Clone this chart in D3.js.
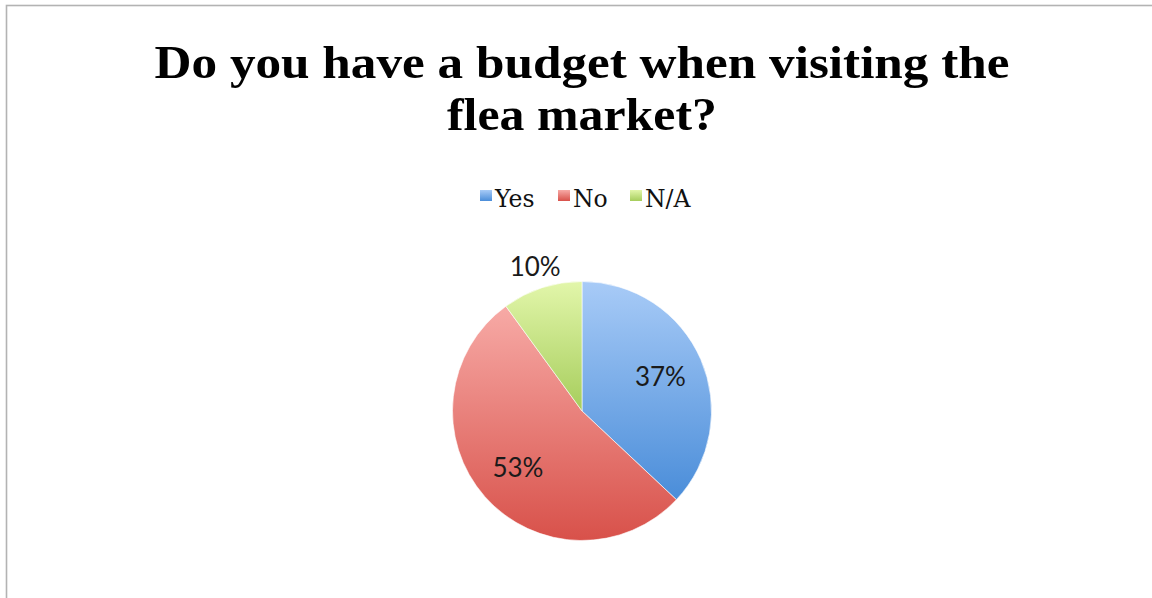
<!DOCTYPE html>
<html><head><meta charset="utf-8">
<script src="https://cdn.jsdelivr.net/npm/d3@7/dist/d3.min.js"></script>
<style>html,body{margin:0;padding:0;background:#fff;overflow:hidden}</style>
</head><body>
<svg id="chart" width="1152" height="598"></svg>
<script>
const titleLines = ["Do you have a budget when visiting the", "flea market?"];
const categories = ["Yes", "No", "N/A"];
const values = [37, 53, 10];
const colorsTop = ["#a8cbf7", "#f7aaa6", "#e2f6aa"];
const colorsBottom = ["#4a8dd9", "#d8514a", "#a6cd5c"];

const svg = d3.select("#chart");
const W = 1152, H = 598;
svg.append("rect").attr("width", W).attr("height", H).attr("fill", "#fff");
svg.append("rect").attr("x", 6.5).attr("y", 5.5).attr("width", W + 10).attr("height", H + 10)
  .attr("fill", "none").attr("stroke", "#b3b3b3").attr("stroke-width", 1.6);

const defs = svg.append("defs");
categories.forEach((c, i) => {
  const g = defs.append("linearGradient").attr("id", "grad" + i)
    .attr("x1", 0).attr("y1", 0).attr("x2", 0).attr("y2", 1);
  g.append("stop").attr("offset", "0%").attr("stop-color", colorsTop[i]);
  g.append("stop").attr("offset", "100%").attr("stop-color", colorsBottom[i]);
});

// Title
const titleWidths = [855, 270];
svg.append("g").selectAll("text").data(titleLines).join("text")
  .attr("x", 582).attr("y", (d, i) => 78 + i * 52)
  .attr("text-anchor", "middle")
  .attr("font-family", "'Liberation Serif', serif").attr("font-weight", "bold")
  .attr("font-size", 47).attr("fill", "#000")
  .attr("textLength", (d, i) => titleWidths[i]).attr("lengthAdjust", "spacingAndGlyphs")
  .text(d => d);

// Legend
const legendX = [480, 558, 630];
const lg = svg.append("g").selectAll("g").data(categories).join("g")
  .attr("transform", (d, i) => `translate(${legendX[i]},190)`);
lg.append("rect").attr("width", 12).attr("height", 11).attr("fill", (d, i) => `url(#grad${i})`);
lg.append("text").attr("x", 15).attr("y", 17)
  .attr("font-family", "'DejaVu Serif', serif").attr("font-size", 23.5).attr("fill", "#111")
  .text(d => d);

// Pie
const cx = 582, cy = 411, r = 129.5;
const total = d3.sum(values);
const pie = d3.pie().sort(null).value(d => d)(values);
const arc = d3.arc().innerRadius(0).outerRadius(r);
const pg = svg.append("g").attr("transform", `translate(${cx},${cy})`);
pg.selectAll("path").data(pie).join("path")
  .attr("d", arc)
  .attr("fill", (d, i) => `url(#grad${i})`)
  .attr("stroke", "#fff").attr("stroke-width", 0.6);

const inArc = d3.arc().innerRadius(r * 0.66).outerRadius(r * 0.66);
const outArc = d3.arc().innerRadius(r + 22).outerRadius(r + 22);
pg.selectAll("text.lbl").data(pie).join("text").attr("class", "lbl")
  .attr("transform", d => {
    const p = (d.data / total < 0.15 ? outArc : inArc).centroid(d);
    return `translate(${p[0]},${p[1]})`;
  })
  .attr("text-anchor", "middle").attr("dy", "0.35em")
  .attr("font-family", "Lato, 'Liberation Sans', sans-serif").attr("font-size", 26)
  .attr("fill", "#1a1a1a")
  .text(d => Math.round(d.data / total * 100) + "%");
</script>
</body></html>
